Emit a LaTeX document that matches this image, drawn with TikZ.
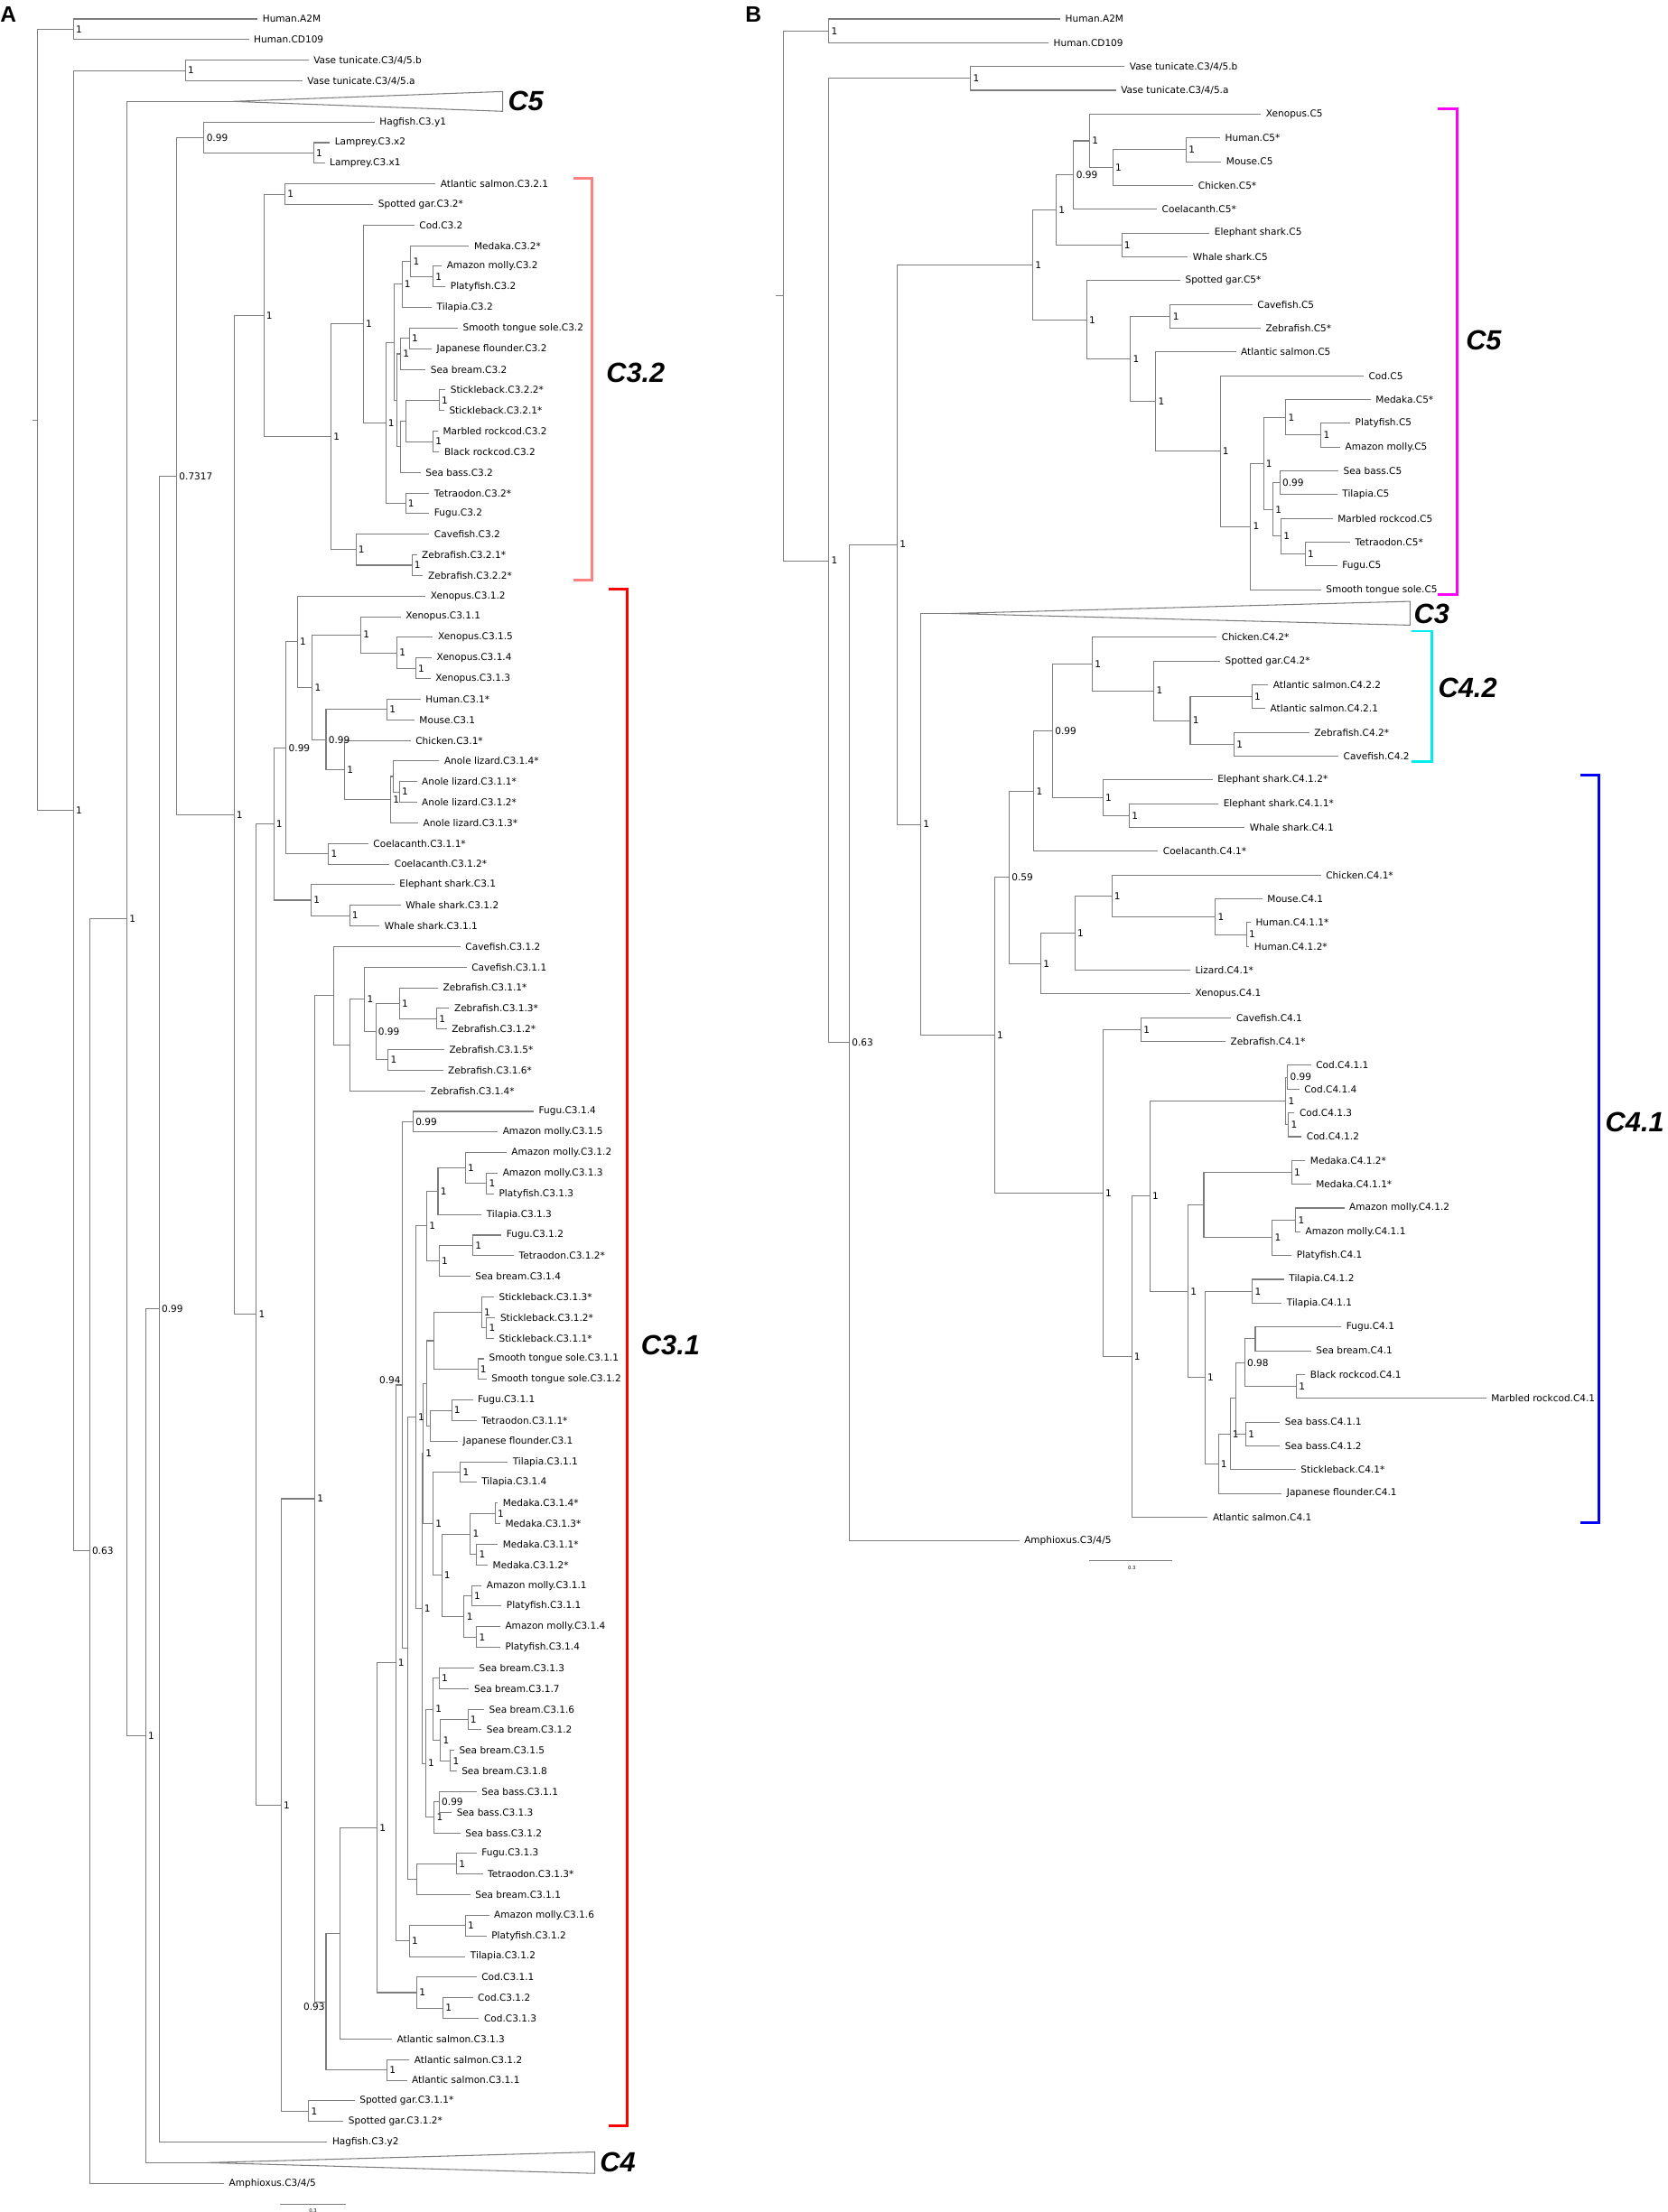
\documentclass[tikz,border=0pt]{standalone}
\usepackage{fontspec}
\setmainfont{DejaVu Sans}
\newfontfamily\cladefont{Liberation Sans}
\usepackage{xcolor}
\usepackage{tikz}
\usetikzlibrary{arrows}
\definecolor{treegray}{RGB}{125,125,125}
\definecolor{cladeCthreetwo}{RGB}{255,128,128}
\definecolor{cladeCthreeone}{RGB}{255,0,0}
\definecolor{cladeCfive}{RGB}{255,0,255}
\definecolor{cladeCfourtwo}{RGB}{0,238,238}
\definecolor{cladeCfourone}{RGB}{0,0,255}
\tikzset{
	leaf node/.style={anchor=west,inner xsep=3pt,inner ysep=0.5pt,font=\fontsize{6}{7}\selectfont},
	support label/.style={anchor=west,inner sep=0.6pt,xshift=0.8pt,font=\fontsize{6}{7}\selectfont},
	left support/.style={inner sep=0.6pt,font=\fontsize{6}{7}\selectfont},
	branch line/.style={draw=treegray,line width=0.6pt},
	collapsed clade/.style={draw=treegray,line width=0.6pt,fill=white},
	clade label/.style={anchor=west,inner sep=0pt,font=\cladefont\bfseries\itshape\fontsize{17.5}{20}\selectfont},
	clade bracket/.style={line width=1.7pt},
	panel label/.style={anchor=north west,inner sep=0pt,font=\cladefont\bfseries\fontsize{14}{16}\selectfont},
	scale label/.style={inner sep=0pt,font=\fontsize{3}{3.5}\selectfont}
}

\begin{document}
\begin{tikzpicture}
	\useasboundingbox (0,0) rectangle (36.94,-49);
	\node[panel label] (pA) at (0,-0.14) {A};
	\node[panel label] (pB) at (16.5,-0.14) {B};
	% tree A
	\begin{scope}[x=0.027551cm,y=-0.4566cm,yshift=-0.42cm]
		\foreach \i/\x/\txt in {0/207/Human.A2M, 1/200/Human.CD109, 2/248/{Vase tunicate.C3/4/5.b}, 3/243/{Vase tunicate.C3/4/5.a},
			5/301/Hagfish.C3.y1, 6/265/Lamprey.C3.x2, 7/261/Lamprey.C3.x1, 8/350/Atlantic salmon.C3.2.1, 9/300/Spotted gar.C3.2*,
			10/333/Cod.C3.2, 11/377/Medaka.C3.2*, 12/355/Amazon molly.C3.2, 13/358/Platyfish.C3.2, 14/347/Tilapia.C3.2,
			15/368/Smooth tongue sole.C3.2, 16/347/Japanese flounder.C3.2, 17/342/Sea bream.C3.2, 18/358/Stickleback.C3.2.2*,
			19/357/Stickleback.C3.2.1*, 20/352/Marbled rockcod.C3.2, 21/353/Black rockcod.C3.2, 22/338/Sea bass.C3.2,
			23/345/Tetraodon.C3.2*, 24/345/Fugu.C3.2, 25/345/Cavefish.C3.2, 26/335/Zebrafish.C3.2.1*, 27/340/Zebrafish.C3.2.2*,
			28/342/Xenopus.C3.1.2, 29/322/Xenopus.C3.1.1, 30/348/Xenopus.C3.1.5, 31/347/Xenopus.C3.1.4, 32/346/Xenopus.C3.1.3,
			33/338/Human.C3.1*, 34/333/Mouse.C3.1, 35/330/Chicken.C3.1*, 36/353/Anole lizard.C3.1.4*, 37/335/Anole lizard.C3.1.1*,
			38/335/Anole lizard.C3.1.2*, 39/336/Anole lizard.C3.1.3*, 40/296/Coelacanth.C3.1.1*, 41/313/Coelacanth.C3.1.2*,
			42/317/Elephant shark.C3.1, 43/322/Whale shark.C3.1.2, 44/305/Whale shark.C3.1.1, 45/370/Cavefish.C3.1.2,
			46/375/Cavefish.C3.1.1, 47/352/Zebrafish.C3.1.1*, 48/361/Zebrafish.C3.1.3*, 49/359/Zebrafish.C3.1.2*,
			50/357/Zebrafish.C3.1.5*, 51/356/Zebrafish.C3.1.6*, 52/342/Zebrafish.C3.1.4*, 53/429/Fugu.C3.1.4,
			54/400/Amazon molly.C3.1.5, 55/407/Amazon molly.C3.1.2, 56/400/Amazon molly.C3.1.3, 57/397/Platyfish.C3.1.3,
			58/387/Tilapia.C3.1.3, 59/403/Fugu.C3.1.2, 60/413/Tetraodon.C3.1.2*, 61/378/Sea bream.C3.1.4,
			62/397/Stickleback.C3.1.3*, 63/398/Stickleback.C3.1.2*, 64/397/Stickleback.C3.1.1*, 65/389/Smooth tongue sole.C3.1.1,
			66/391/Smooth tongue sole.C3.1.2, 67/380/Fugu.C3.1.1, 68/383/Tetraodon.C3.1.1*, 69/368/Japanese flounder.C3.1,
			70/408/Tilapia.C3.1.1, 71/383/Tilapia.C3.1.4, 72/400/Medaka.C3.1.4*, 73/402/Medaka.C3.1.3*, 74/400/Medaka.C3.1.1*,
			75/392/Medaka.C3.1.2*, 76/387/Amazon molly.C3.1.1, 77/403/Platyfish.C3.1.1, 78/402/Amazon molly.C3.1.4,
			79/402/Platyfish.C3.1.4, 80/381/Sea bream.C3.1.3, 81/377/Sea bream.C3.1.7, 82/389/Sea bream.C3.1.6,
			83/387/Sea bream.C3.1.2, 84/365/Sea bream.C3.1.5, 85/367/Sea bream.C3.1.8, 86/383/Sea bass.C3.1.1,
			87/363/Sea bass.C3.1.3, 88/370/Sea bass.C3.1.2, 89/383/Fugu.C3.1.3, 90/388/Tetraodon.C3.1.3*, 91/378/Sea bream.C3.1.1,
			92/393/Amazon molly.C3.1.6, 93/391/Platyfish.C3.1.2, 94/374/Tilapia.C3.1.2, 95/383/Cod.C3.1.1, 96/380/Cod.C3.1.2,
			97/385/Cod.C3.1.3, 98/315/Atlantic salmon.C3.1.3, 99/329/Atlantic salmon.C3.1.2, 100/327/Atlantic salmon.C3.1.1,
			101/285/Spotted gar.C3.1.1*, 102/276/Spotted gar.C3.1.2*, 103/263/Hagfish.C3.y2, 105/180/{Amphioxus.C3/4/5}}
			\node[leaf node] (a-\i) at (\x,\i) {\txt};
		\coordinate (a-4) at (187,4);
		\coordinate (a-104) at (167,104);
		\foreach \nd/\x/\y in {root/30/19.46, hum/59/0.5, g1/59/38.41, vase/149/2.5, g2/72/74.32, g3/102/43.65, g4/117/83.30,
			g5/128/62.59, g6/142/22.19, cyc/164/5.75, lam/252/6.5, g7/188/38.62, c32/212/14.39, sg/229/8.5, b1/266/20.27,
			b3/286/25.75, zf/331/26.5, b2/292/14.80, b4/310/19.59, tf/326/23.5, b5/317/15.69, b6/323/12.875, med/330/11.75,
			mp/348/12.5, b7/319/18.5, b8/322/16.25, sj/329/15.5, b9/322/20.75, b10/326/19.5, st/353/18.5, mb/348/20.5,
			c31/206/62.85, tet/220/39.05, shk/250/42.75, ws/281/43.5, t099/230/35.36, coel/264/40.5, t1/239/30.21,
			t2/251/32.42, xen/290/29.875, xen2/319/30.75, xen3/334/31.5, amn/262/34.97, hm/311/33.5, sau/277/36.44,
			an1/314/37.875, an2/316/36.75, an3/321/37.5, tel/226/86.65, gar/248/101.5, tl1/253/71.79, cz/268/47.39,
			cz2/281/49.78, cz3/293/47.56, cz4/302/49.125, cz5/321/47.75, zp2/351/48.5, zp/312/50.5, t093/262/96.19,
			sal/311/99.5, p1/273/92.88, p2/303/87.76, cod/335/95.75, cod2/356/96.5, p3/318/79.76, tm/329/93.25,
			mp6/374/92.5, n094/323/66.27, y0/332/53.5, w/328/79.04, ft3/335/90.25, ft3p/367/89.5, u/334/67.84,
			pp1/343/58.56, mpt/352/56.875, mol/374/55.75, mol2/391/56.5, fts/353/60.25, ftp/380/59.5, v/339/77.11,
			q2/340/69.59, q1/343/66.19, ss/349/64.125, stk/387/62.75, stk2/391/63.5, sts/384/65.5, jf/346/68.25,
			ft1/363/67.5, r1/348/73, tp/370/70.5, mm/355/75.5, mdk/378/73.5, md1/398/72.5, md2/383/74.5, mly/373/77.5,
			ml1/379/76.5, ml2/383/78.5, sbg/342/84.625, sb1/348/82, sbp/353/80.5, sb2/354/83.5, sb3/376/82.5,
			sb4/362/84.5, sbs/349/87.25, sbs2/353/86.5}
			\coordinate (a-\nd) at (\x,\y);
		\foreach \p/\c in {root/hum, root/g1, hum/0, hum/1, g1/vase, g1/g2, vase/2, vase/3, g2/g3, g2/105, g3/4, g3/g4,
			g4/g5, g4/104, g5/g6, g5/103, g6/cyc, g6/g7, cyc/5, cyc/lam, lam/6, lam/7, g7/c32, g7/c31,
			c32/sg, c32/b1, sg/8, sg/9, b1/b2, b1/b3, b3/25, b3/zf, zf/26, zf/27, b2/10, b2/b4, b4/b5, b4/tf, tf/23, tf/24,
			b5/b6, b5/b7, b6/med, b6/14, med/11, med/mp, mp/12, mp/13, b7/b8, b7/b9, b8/sj, b8/17, sj/15, sj/16,
			b9/b10, b9/22, b10/st, b10/mb, st/18, st/19, mb/20, mb/21,
			c31/tet, c31/tel, tet/t099, tet/shk, shk/42, shk/ws, ws/43, ws/44, t099/t1, t099/coel, coel/40, coel/41,
			t1/28, t1/t2, t2/xen, t2/amn, xen/29, xen/xen2, xen2/30, xen2/xen3, xen3/31, xen3/32, amn/hm, amn/sau,
			hm/33, hm/34, sau/35, sau/an1, an1/an2, an1/39, an2/36, an2/an3, an3/37, an3/38,
			tel/tl1, tel/gar, gar/101, gar/102, tl1/cz, tl1/t093, cz/45, cz/cz2, cz2/cz3, cz2/52, cz3/46, cz3/cz4,
			cz4/cz5, cz4/zp, cz5/47, cz5/zp2, zp2/48, zp2/49, zp/50, zp/51,
			t093/p1, t093/sal, sal/99, sal/100, p1/p2, p1/98, p2/p3, p2/cod, cod/95, cod/cod2, cod2/96, cod2/97,
			p3/n094, p3/tm, tm/mp6, tm/94, mp6/92, mp6/93, n094/y0, n094/w, y0/53, y0/54, w/u, w/ft3, ft3/ft3p, ft3/91,
			ft3p/89, ft3p/90, u/pp1, u/v, pp1/mpt, pp1/fts, mpt/mol, mpt/58, mol/55, mol/mol2, mol2/56, mol2/57,
			fts/ftp, fts/61, ftp/59, ftp/60, v/q2, v/sbg, q2/q1, q2/r1, q1/ss, q1/jf, ss/stk, ss/sts, stk/62, stk/stk2,
			stk2/63, stk2/64, sts/65, sts/66, jf/ft1, jf/69, ft1/67, ft1/68, r1/tp, r1/mm, tp/70, tp/71, mm/mdk, mm/mly,
			mdk/md1, mdk/md2, md1/72, md1/73, md2/74, md2/75, mly/ml1, mly/ml2, ml1/76, ml1/77, ml2/78, ml2/79,
			sbg/sb1, sbg/sbs, sb1/sbp, sb1/sb2, sbp/80, sbp/81, sb2/sb3, sb2/sb4, sb3/82, sb3/83, sb4/84, sb4/85,
			sbs/sbs2, sbs/88, sbs2/86, sbs2/87}
			\draw[branch line] (a-\p) |- (a-\c);
		\draw[branch line] (a-root) -- ++(-4,0);
		\foreach \nd/\v in {hum/1, g1/1, vase/1, g2/0.63, g3/1, g4/1, g5/0.99, g6/0.7317, cyc/0.99, lam/1, g7/1, c32/1,
			sg/1, b1/1, b3/1, zf/1, b2/1, b4/1, tf/1, b6/1, med/1, mp/1, b8/1, sj/1, st/1, mb/1,
			c31/1, tet/1, shk/1, ws/1, t099/0.99, coel/1, t1/1, t2/1, xen/1, xen2/1, xen3/1, amn/0.99, hm/1, sau/1,
			an1/1, an3/1, tel/1, gar/1, tl1/1, cz3/1, cz4/0.99, cz5/1, zp2/1, zp/1, sal/1, p2/1, cod/1, cod2/1, p3/1,
			tm/1, mp6/1, y0/0.99, ft3p/1, u/1, pp1/1, mpt/1, mol/1, mol2/1, fts/1, ftp/1, v/1, q2/1, stk/1, stk2/1,
			sts/1, ft1/1, r1/1, tp/1, mm/1, mdk/1, md1/1, md2/1, mly/1, ml1/1, ml2/1, sbg/1, sb1/1, sbp/1, sb2/1,
			sb3/1, sb4/1, sbs/1, sbs2/0.99}
			\node[support label] (a-\nd-s) at (a-\nd) {\v};
		\node[left support,anchor=south east] (a-n094-s) at (a-n094) {0.94};
		\node[left support,anchor=north east] (a-t093-s) at (a-t093) {0.93};
		% collapsed clades
		\draw[collapsed clade] (a-4) -- (404,3.52) -- (404,4.48) -- cycle;
		\node[clade label] (a-C5) at (408,4) {C5};
		\draw[collapsed clade] (a-104) -- (478,103.48) -- (478,104.52) -- cycle;
		\node[clade label] (a-C4) at (482,104) {C4};
		% brackets
		\draw[clade bracket,cladeCthreetwo] (461,7.71) -- (476,7.71) -- (476,27.24) -- (461,27.24);
		\node[clade label] (a-C32) at (487,17.17) {C3.2};
		\draw[clade bracket,cladeCthreeone] (489,27.64) -- (504,27.64) -- (504,102.2) -- (489,102.2);
		\node[clade label] (a-C31) at (515,64.34) {C3.1};
		\draw[branch line] (225,106) -- (278,106);
		\node[scale label] (a-scale) at (251.5,106.35) {0.3};
	\end{scope}
	% tree B
	\begin{scope}[x=0.02cm,y=-0.5268cm,yshift=-0.42cm]
		\foreach \i/\x/\txt in {0/1173.8/Human.A2M, 1/1160.8/Human.CD109, 2/1245/{Vase tunicate.C3/4/5.b},
			3/1235.4/{Vase tunicate.C3/4/5.a}, 4/1396/Xenopus.C5, 5/1350.8/Human.C5*, 6/1352/Mouse.C5, 7/1321/Chicken.C5*,
			8/1280.8/Coelacanth.C5*, 9/1339/Elephant shark.C5, 10/1315/Whale shark.C5, 11/1306.7/Spotted gar.C5*,
			12/1386.5/Cavefish.C5, 13/1395.6/Zebrafish.C5*, 14/1368.3/Atlantic salmon.C5, 15/1509.7/Cod.C5,
			16/1517.5/Medaka.C5*, 17/1494.8/Platyfish.C5, 18/1483.8/Amazon molly.C5, 19/1481.8/Sea bass.C5,
			20/1480.5/Tilapia.C5, 21/1475.4/Marbled rockcod.C5, 22/1494.8/Tetraodon.C5*, 23/1480.5/Fugu.C5,
			24/1462.4/Smooth tongue sole.C5, 26/1347/Chicken.C4.2*, 27/1350.8/Spotted gar.C4.2*,
			28/1404/Atlantic salmon.C4.2.2, 29/1400.8/Atlantic salmon.C4.2.1, 30/1449.4/Zebrafish.C4.2*,
			31/1481.8/Cavefish.C4.2, 32/1342.4/Elephant shark.C4.1.2*, 33/1348.9/Elephant shark.C4.1.1*,
			34/1378/Whale shark.C4.1, 35/1282/Coelacanth.C4.1*, 36/1462.4/Chicken.C4.1*, 37/1397.5/Mouse.C4.1,
			38/1384.6/Human.C4.1.1*, 39/1383/Human.C4.1.2*, 40/1317.7/Lizard.C4.1*, 41/1317.7/Xenopus.C4.1,
			42/1363.2/Cavefish.C4.1, 43/1356.7/Zebrafish.C4.1*, 44/1451.4/Cod.C4.1.1, 45/1438.4/Cod.C4.1.4,
			46/1433.2/Cod.C4.1.3, 47/1441/Cod.C4.1.2, 48/1445/Medaka.C4.1.2*, 49/1451.4/Medaka.C4.1.1*,
			50/1488.3/Amazon molly.C4.1.2, 51/1439.7/Amazon molly.C4.1.1, 52/1430/Platyfish.C4.1,
			53/1421.5/Tilapia.C4.1.2, 54/1419/Tilapia.C4.1.1, 55/1485/Fugu.C4.1, 56/1451.4/Sea bream.C4.1,
			57/1445/Black rockcod.C4.1, 58/1645.3/Marbled rockcod.C4.1, 59/1417/Sea bass.C4.1.1, 60/1417/Sea bass.C4.1.2,
			61/1434.5/Stickleback.C4.1*, 62/1419/Japanese flounder.C4.1, 63/1337.2/Atlantic salmon.C4.1,
			64/1128.4/{Amphioxus.C3/4/5}}
			\node[leaf node] (b-\i) at (\x,\i) {\txt};
		\coordinate (b-25) at (1054,25);
		\foreach \nd/\x/\y in {root/867.6/11.64, hum/917.6/0.5, A/917.6/22.78, vase/1074.5/2.5, n063/940.3/43.05,
			C/993.4/22.10, c5/1143.3/10.34, tt/1169.2/8.03, shk/1241.9/9.5, t099/1188.7/6.56, t1/1206.2/5.125,
			t2/1232/6.25, hm/1313.2/5.5, f/1203/12.65, f2/1251.6/14.29, cz/1295.7/12.5, f3/1279.5/16.09,
			f4/1350.8/18.17, f5/1384.6/21.34, f6/1398.8/18.69, md/1423.5/16.75, pm/1462.4/17.5, f7/1409.2/20.625,
			sbt/1417/19.5, f8/1418.3/21.75, tf/1444.9/22.5, D/1019.4/33.87, E/1101.1/42.73, F/1117.3/36.09,
			G/1144.6/32.47, b099/1165.3/29.94, c42/1209.4/27.125, c42a/1277.5/28.25, c42b/1317.7/29.5,
			salp/1385.9/28.5, zcp/1366.4/30.5, shk2/1221.1/32.75, shp/1250.3/33.5, H/1152.4/39.72, I/1190/38.44,
			J/1230.8/36.875, mh/1345.6/37.75, hp/1380/38.5, K/1221.1/49.375, cz2/1263.3/42.5, L/1252.9/56.25,
			M/1273/49.5, cod/1423.5/45.5, cp1/1425.5/44.5, cp2/1426.5/46.5, N/1315.2/53.5, O/1332.7/49.875,
			mdp/1430/48.5, P/1408.6/51.25, mlp/1434.5/50.5, Q/1334/57.125, tip/1386.5/53.5, R/1348.9/60.75,
			S/1361.9/59.5, T/1368.3/58, n098/1378/56.5, fsb/1389.7/55.5, rcp/1435.2/57.5, sbp/1379.4/59.5}
			\coordinate (b-\nd) at (\x,\y);
		\foreach \p/\c in {root/hum, root/A, hum/0, hum/1, A/vase, A/n063, vase/2, vase/3, n063/C, n063/64, C/c5, C/D,
			c5/tt, c5/f, tt/t099, tt/shk, shk/9, shk/10, t099/t1, t099/8, t1/4, t1/t2, t2/hm, t2/7, hm/5, hm/6,
			f/11, f/f2, f2/cz, f2/f3, cz/12, cz/13, f3/14, f3/f4, f4/15, f4/f5, f5/f6, f5/24, f6/md, f6/f7, md/16, md/pm,
			pm/17, pm/18, f7/sbt, f7/f8, sbt/19, sbt/20, f8/21, f8/tf, tf/22, tf/23,
			D/25, D/E, E/F, E/K, F/G, F/H, G/b099, G/35, b099/c42, b099/shk2, c42/26, c42/c42a, c42a/27, c42a/c42b,
			c42b/salp, c42b/zcp, salp/28, salp/29, zcp/30, zcp/31, shk2/32, shk2/shp, shp/33, shp/34, H/I, H/41,
			I/J, I/40, J/36, J/mh, mh/37, mh/hp, hp/38, hp/39, K/cz2, K/L, cz2/42, cz2/43, L/M, L/63, M/cod, M/N,
			cod/cp1, cod/cp2, cp1/44, cp1/45, cp2/46, cp2/47, N/O, N/Q, O/mdp, O/P, mdp/48, mdp/49, P/mlp, P/52,
			mlp/50, mlp/51, Q/tip, Q/R, tip/53, tip/54, R/S, R/62, S/T, S/61, T/n098, T/sbp, n098/fsb, n098/rcp,
			fsb/55, fsb/56, rcp/57, rcp/58, sbp/59, sbp/60}
			\draw[branch line] (b-\p) |- (b-\c);
		\draw[branch line] (b-root) -- ++(-8.6,0);
		\foreach \nd/\v in {hum/1, A/1, vase/1, n063/0.63, C/1, c5/1, tt/1, shk/1, t099/0.99, t1/1, t2/1, hm/1, f/1,
			f2/1, cz/1, f3/1, f4/1, f5/1, f6/1, md/1, pm/1, f7/1, sbt/0.99, f8/1, tf/1, D/1, E/1, F/0.59, G/1,
			b099/0.99, c42/1, c42a/1, c42b/1, salp/1, zcp/1, shk2/1, shp/1, H/1, I/1, J/1, mh/1, hp/1, K/1, cz2/1,
			L/1, M/1, cod/1, cp1/0.99, cp2/1, N/1, mdp/1, P/1, mlp/1, Q/1, tip/1, R/1, S/1, n098/0.98, rcp/1, sbp/1}
			\node[support label] (b-\nd-s) at (b-\nd) {\v};
		\draw[collapsed clade] (b-25) -- (1561,24.49) -- (1561,25.49) -- cycle;
		\node[clade label] (b-C3) at (1565,25) {C3};
		\draw[clade bracket,cladeCfive] (1592,3.79) -- (1613.5,3.79) -- (1613.5,24.22) -- (1592,24.22);
		\node[clade label] (b-C5) at (1622.6,13.53) {C5};
		\draw[clade bracket,cladeCfourtwo] (1563,25.74) -- (1585.6,25.74) -- (1585.6,31.22) -- (1563,31.22);
		\node[clade label] (b-C42) at (1592,28.12) {C4.2};
		\draw[clade bracket,cladeCfourone] (1749.7,31.79) -- (1770.5,31.79) -- (1770.5,63.24) -- (1749.7,63.24);
		\node[clade label] (b-C41) at (1777,46.38) {C4.1};
		\draw[branch line] (1206,64.84) -- (1298,64.84);
		\node[scale label] (b-scale) at (1253,65.15) {0.3};
	\end{scope}
\end{tikzpicture}
\end{document}
